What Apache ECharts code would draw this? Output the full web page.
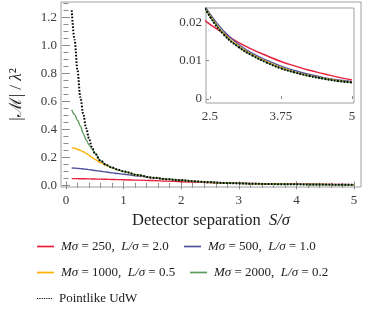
<!DOCTYPE html>
<html><head><meta charset="utf-8">
<script src="https://cdn.jsdelivr.net/npm/echarts@6/dist/echarts.min.js"></script>
<style>html,body{margin:0;padding:0;background:#fff}#c{width:374px;height:310px}</style>
</head><body><div id="c"></div>
<script>
const sep = [0.1,0.15,0.2,0.25,0.3,0.35,0.4,0.45,0.5,0.6,0.7,0.8,0.9,1.0,1.25,1.5,1.75,2.0,2.25,2.5,2.75,3.0,3.25,3.5,3.75,4.0,4.25,4.5,4.75,5.0];
const redVals = [0.048,0.048,0.0475,0.047,0.047,0.0465,0.046,0.0455,0.045,0.044,0.043,0.042,0.041,0.040,0.037,0.034,0.030,0.026,0.0225,0.0195,0.0171,0.0148,0.0129,0.0113,0.0098,0.0086,0.0075,0.0066,0.0057,0.0050];
const blueVals = [0.124,0.123,0.121,0.119,0.117,0.115,0.112,0.109,0.106,0.101,0.095,0.089,0.084,0.079,0.066,0.054,0.044,0.036,0.0285,0.0222,0.0176,0.0143,0.0119,0.0101,0.0086,0.0074,0.0064,0.0056,0.0050,0.0046];
const yellowVals = [0.268,0.265,0.258,0.25,0.24,0.228,0.215,0.2,0.186,0.162,0.142,0.125,0.11,0.098,0.072,0.055,0.044,0.036,0.028,0.0218,0.0170,0.0138,0.0115,0.0097,0.0082,0.0070,0.0061,0.0054,0.0048,0.0044];
const greenVals = [0.54,0.505,0.465,0.425,0.37,0.325,0.29,0.262,0.232,0.176,0.146,0.126,0.111,0.099,0.073,0.055,0.044,0.036,0.028,0.0216,0.0168,0.0136,0.0113,0.0095,0.0080,0.0069,0.0060,0.0053,0.0047,0.0043];
const pointVals = [1.25,1.04,0.82,0.63,0.51,0.41,0.335,0.275,0.23,0.175,0.145,0.127,0.112,0.10,0.073,0.055,0.044,0.036,0.028,0.0215,0.0167,0.0136,0.0113,0.0095,0.0080,0.0069,0.0060,0.0053,0.0047,0.0043];

const seriesNames = ['red','blue','yellow','green','point'];
const legendLabels = [
  '{i|Mσ} = 250,  {i|L/σ} = 2.0',
  '{i|Mσ} = 500,  {i|L/σ} = 1.0',
  '{i|Mσ} = 1000,  {i|L/σ} = 0.5',
  '{i|Mσ} = 2000,  {i|L/σ} = 0.2',
  'Pointlike UdW'
];
const colors = ['#E8203E','#52529E','#FFB300','#5E9C5E','#000000'];

const xTicksMain = [0,1,2,3,4,5];
const xMinorMain = [0.2,0.4,0.6,0.8,1.2,1.4,1.6,1.8,2.2,2.4,2.6,2.8,3.2,3.4,3.6,3.8,4.2,4.4,4.6,4.8];
const yTicksMain = [0,0.2,0.4,0.6,0.8,1.0,1.2];
const yMinorMain = [0.05,0.1,0.15,0.25,0.3,0.35,0.45,0.5,0.55,0.65,0.7,0.75,0.85,0.9,0.95,1.05,1.1,1.15,1.25,1.3];
const xTicksInset = [2.5,3.75,5];
const yTicksInset = [0,0.01,0.02];

const FONT = "'Liberation Serif','DejaVu Serif',serif";
const TICK = '#8a8a8a';
const LBL = '#3a3a3a';

function pairs(vals, lo){ const d=[]; sep.forEach((s,i)=>{ if(s>=lo) d.push([s, vals[i]]); }); return d; }

function axis(kind, grid, pos, min, max, ticks, len, showLabels, fmt, extra){
  const a = {
    type:'value', gridIndex:grid, position:pos, min:min, max:max,
    axisLine:{show:false}, splitLine:{show:false},
    axisTick:{show:true, inside:true, length:len, customValues:ticks, lineStyle:{color:TICK,width:1}},
    axisLabel:{show:showLabels, customValues:ticks, formatter:fmt, color:LBL, fontFamily:FONT, fontSize:13, margin: kind==='x'?7:4}
  };
  return Object.assign(a, extra||{});
}
const f1 = v => v.toFixed(1);
const f0 = v => String(v);
const fIn = v => v===0 ? '0' : v.toFixed(2);

const XMIN=-0.086, XMAX=5.12, YMIN=-0.012, YMAX=1.31;
const IXMIN=2.43, IXMAX=5.035, IYMIN=-0.00104, IYMAX=0.02376;

const xAxes = [
  axis('x',0,'bottom',XMIN,XMAX,xTicksMain,4,true,f0,{
    name:'Detector separation  {i|S/σ}', nameLocation:'middle', nameGap:24,
    nameTextStyle:{fontFamily:FONT,fontSize:16.5,color:'#222',rich:{i:{fontStyle:'italic',fontFamily:FONT,fontSize:16.5,color:'#222'}}}
  }),
  axis('x',0,'bottom',XMIN,XMAX,xMinorMain,2.5,false,f0),
  axis('x',0,'top',XMIN,XMAX,xTicksMain,4,false,f0),
  axis('x',0,'top',XMIN,XMAX,xMinorMain,2.5,false,f0),
  axis('x',1,'bottom',IXMIN,IXMAX,xTicksInset,3,true,f0)
];
const yAxes = [
  axis('y',0,'left',YMIN,YMAX,yTicksMain,4,true,f1,{
    name:'|ℳ| / {i|λ}²', nameLocation:'middle', nameGap:36, nameRotate:90,
    nameTextStyle:{fontFamily:FONT,fontSize:17,color:'#222',rich:{i:{fontStyle:'italic',fontFamily:FONT,fontSize:17,color:'#222'}}}
  }),
  axis('y',0,'left',YMIN,YMAX,yMinorMain,2.5,false,f1),
  axis('y',0,'right',YMIN,YMAX,yTicksMain,4,false,f1),
  axis('y',0,'right',YMIN,YMAX,yMinorMain,2.5,false,f1),
  axis('y',1,'left',IYMIN,IYMAX,yTicksInset,3,true,fIn)
];

const series = [];
const allVals = [redVals, blueVals, yellowVals, greenVals, pointVals];
allVals.forEach((vals, k) => {
  const isPt = k===4;
  const ls = isPt ? {color:'#000', width:2, type:[1.6,1.6]} : {color:colors[k], width:1.4};
  series.push({type:'line', name:seriesNames[k], xAxisIndex:0, yAxisIndex:0, data:pairs(vals,0),
    showSymbol:false, symbol:'none', smooth:0.35, smoothMonotone:'x', lineStyle:ls, itemStyle:{color:colors[k]}, z:2+k, animation:false});
  series.push({type:'line', name:seriesNames[k], xAxisIndex:4, yAxisIndex:4, data:pairs(vals,2.25),
    showSymbol:false, symbol:'none', smooth:0.5, lineStyle:ls, itemStyle:{color:colors[k]}, z:2+k, clip:true, animation:false});
});

const solidIcon = 'path://M0,0h20v2h-20z';
const dotIcon = 'path://M0,0h2v2h-2zM4,0h2v2h-2zM8,0h2v2h-2zM12,0h2v2h-2zM16,0h2v2h-2zM20,0h2v2h-2zM24,0h2v2h-2z';
const legPos = [[37,240],[184,240],[37,266],[190,266],[37,292]];
const legends = seriesNames.map((n,k)=>({
  data:[{name:n, icon: k===4?dotIcon:solidIcon, itemStyle:{color:colors[k], borderWidth:0}}],
  left:legPos[k][0], top:legPos[k][1], orient:'horizontal',
  itemWidth: k===4?15:17, itemHeight: 2, padding:0,
  formatter: ()=>legendLabels[k],
  textStyle:{fontFamily:FONT, fontSize:13, color:'#222', padding:[0,0,0,2],
    rich:{i:{fontStyle:'italic', fontFamily:FONT, fontSize:13, color:'#222'}}},
  selectedMode:false
}));

const chart = echarts.init(document.getElementById('c'), null, {renderer:'canvas'});
chart.setOption({
  animation:false,
  backgroundColor:'#fff',
  grid:[
    {left:57, top:2, width:304, height:185, show:true, borderColor:'#a0a0a0', borderWidth:1, backgroundColor:'transparent'},
    {left:206, top:8, width:148, height:95, show:true, borderColor:'#a0a0a0', borderWidth:1, backgroundColor:'#fff'}
  ],
  xAxis:xAxes, yAxis:yAxes, legend:legends, series:series
});
</script></body></html>
